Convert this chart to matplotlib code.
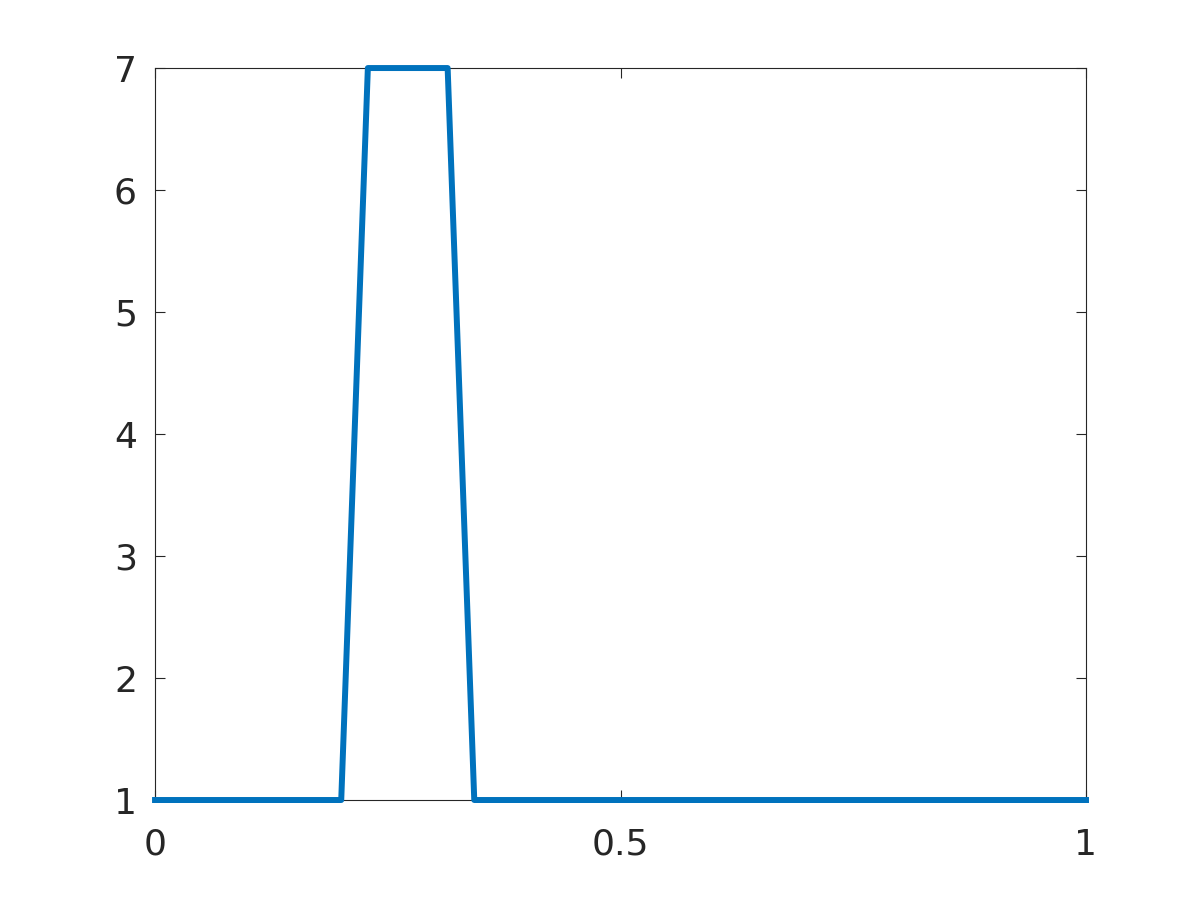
import matplotlib
matplotlib.use('Agg')
import matplotlib.pyplot as plt

# breakpoints of the piecewise-linear profile
x = [0.0, 0.2, 0.2286, 0.3143, 0.3429, 1.0]
y = [1, 1, 7, 7, 1, 1]

xticks = [0, 0.5, 1]
xticklabels = ['0', '0.5', '1']
yticks = [1, 2, 3, 4, 5, 6, 7]

dark = '#262626'

fig = plt.figure(figsize=(12, 9), dpi=100)
ax = fig.add_axes([0.1292, 0.1111, 0.7758, 0.8133])

ax.plot(x, y, color='#0072BD', linewidth=4.3, clip_on=False,
        solid_capstyle='projecting', zorder=3)

ax.set_xlim(0, 1)
ax.set_ylim(1, 7)
ax.set_xticks(xticks)
ax.set_xticklabels(xticklabels)
ax.set_yticks(yticks)

for s in ax.spines.values():
    s.set_color(dark)
    s.set_linewidth(0.8)

ax.tick_params(direction='in', length=7.5, width=0.8, color=dark,
               labelcolor=dark, labelsize=26, top=True, right=True)
ax.tick_params(axis='x', pad=20)
ax.tick_params(axis='y', pad=13)

fig.savefig('out.png', dpi=100)
